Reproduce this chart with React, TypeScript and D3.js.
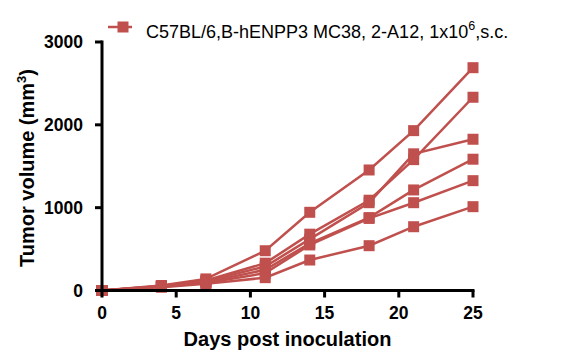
import React from "react";
import * as d3 from "d3";

const days = [0, 4, 7, 11, 14, 18, 21, 25];
const mouse1 = [0, 60, 140, 480, 944, 1455, 1930, 2690];
const mouse2 = [0, 55, 120, 330, 680, 1090, 1580, 2333];
const mouse3 = [0, 50, 110, 290, 620, 1060, 1650, 1826];
const mouse4 = [0, 50, 100, 250, 570, 880, 1214, 1585];
const mouse5 = [0, 45, 90, 210, 550, 870, 1060, 1326];
const mouse6 = [0, 40, 80, 155, 368, 541, 770, 1012];
const series = [mouse1, mouse2, mouse3, mouse4, mouse5, mouse6];
const xTicks = [0, 5, 10, 15, 20, 25];
const yTicks = [0, 1000, 2000, 3000];
const legendLabel = "C57BL/6,B-hENPP3 MC38, 2-A12, 1x10";

const color = "#c0504d";
const font = "Liberation Sans, Arial, sans-serif";

export default function App() {
  const x = d3.scaleLinear().domain([0, 25]).range([102, 473]);
  const y = d3.scaleLinear().domain([0, 3000]).range([290.5, 42]);
  const line = d3
    .line<number>()
    .x((_, i) => x(days[i]))
    .y((d) => y(d));
  const sq = 11;
  return (
    <svg
      width={577}
      height={356}
      style={{ position: "absolute", left: 0, top: 0 }}
      fontFamily={font}
    >
      {/* legend */}
      <line x1={108} x2={132} y1={27} y2={27} stroke={color} strokeWidth={2.5} />
      <rect x={123 - 5.5} y={27 - 5.5} width={11} height={11} fill={color} />
      <text x={146} y={38} fontSize={18} fill="#000">
        {legendLabel}
        <tspan dy={-8} fontSize={12.5}>6</tspan>
        <tspan dy={8}>,s.c.</tspan>
      </text>

      {/* series */}
      {series.map((s, k) => (
        <g key={k}>
          <path d={line(s) || ""} fill="none" stroke={color} strokeWidth={2.5} />
          {s.map((v, i) => (
            <rect
              key={i}
              x={x(days[i]) - sq / 2}
              y={y(v) - sq / 2}
              width={sq}
              height={sq}
              fill={color}
            />
          ))}
        </g>
      ))}

      {/* y axis */}
      <line x1={102} x2={102} y1={y(3000) - 1.5} y2={y(0) + 1.5} stroke="#000" strokeWidth={3} />
      {yTicks.map((t) => (
        <g key={t}>
          <line x1={95} x2={102} y1={y(t)} y2={y(t)} stroke="#000" strokeWidth={3} />
          <text
            x={83}
            y={y(t) + 6}
            textAnchor="end"
            fontSize={17.5}
            fontWeight="bold"
          >
            {t}
          </text>
        </g>
      ))}

      {/* x axis */}
      <line x1={100.5} x2={x(25) + 1.5} y1={y(0)} y2={y(0)} stroke="#000" strokeWidth={3} />
      {xTicks.map((t) => (
        <g key={t}>
          <line x1={x(t)} x2={x(t)} y1={y(0)} y2={y(0) + 7} stroke="#000" strokeWidth={3} />
          <text
            x={x(t)}
            y={319}
            textAnchor="middle"
            fontSize={17.5}
            fontWeight="bold"
          >
            {t}
          </text>
        </g>
      ))}

      <text x={287.5} y={346} textAnchor="middle" fontSize={20} fontWeight="bold">
        Days post inoculation
      </text>
      <text
        transform={`translate(34,168) rotate(-90)`}
        textAnchor="middle"
        fontSize={20}
        fontWeight="bold"
      >
        Tumor volume (mm
        <tspan dy={-8} fontSize={13}>3</tspan>
        <tspan dy={8}>)</tspan>
      </text>
    </svg>
  );
}
